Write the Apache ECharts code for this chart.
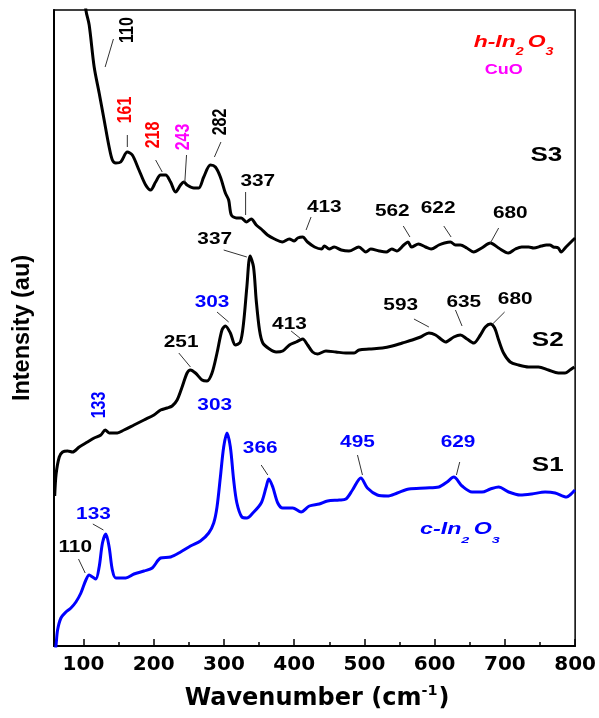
<!DOCTYPE html>
<html><head><meta charset="utf-8">
<script src="https://cdn.jsdelivr.net/npm/echarts@6/dist/echarts.min.js"></script>
<style>html,body{margin:0;padding:0;background:#fff}#c{width:599px;height:718px}</style>
</head><body><div id="c"></div>
<script>
// ---------- data ----------
const xTicks = [100, 200, 300, 400, 500, 600, 700, 800];
const xMinorTicks = [150, 250, 350, 450, 550, 650, 750];

const s3Wavenumber = [
  100, 103.4, 108.1, 115.2, 122.3, 129.4, 136.5, 141.1, 146.0, 153.0,
  162.4, 169.5, 179.0, 188.5, 195.6, 202.7, 209.8, 216.9, 224.0, 231.1,
  238.2, 242.8, 247.5, 257.0, 264.1, 271.2, 280.7, 287.8, 294.9, 302.0,
  306.7, 310.5, 317.6, 324.7, 331.8, 338.9, 346.0, 353.0, 362, 372,
  383, 393, 400, 405, 412, 419, 429, 439, 443, 450,
  457, 467, 478, 492, 502, 509, 521, 531, 539, 546,
  556, 562, 567, 577, 587, 595, 606, 614, 622.5, 629.6,
  636.7, 645.7, 655.6, 667, 679.3, 691, 705, 715, 724, 734,
  741, 752, 759, 764, 769, 776, 780, 787, 797, 800];
const s3Intensity = [
  670, 636, 621, 579, 553, 526, 499, 486, 483, 484,
  494, 491, 476, 461, 456, 464, 471, 471, 464, 454,
  461, 464, 461, 458, 458, 469, 481, 479, 469, 453,
  446, 431, 428, 428, 424, 427, 421, 417, 411, 407,
  404, 407, 405, 408, 409, 404, 399, 397, 400, 397,
  399, 396, 395, 399, 394, 397, 395, 394, 397, 395,
  401, 404, 399, 402, 399, 397, 401, 403, 404, 401,
  401, 398, 394, 398, 403, 398, 393, 397, 399, 399,
  398, 400, 401, 401, 399, 398, 394, 399, 406, 408];

const s2Wavenumber = [
  59, 61, 65.5, 70.2, 77.3, 84.4, 93.9, 105.7, 115.2, 124.7,
  131, 136.5, 148.2, 157.7, 171.9, 186.1, 200.3, 209.8, 219.1, 226.2,
  233.3, 240.4, 247.5, 252.3, 259.4, 268.8, 275.9, 283.0, 290.1, 297.2,
  302.0, 309.1, 316.2, 323.3, 327.9, 332.6, 337.2, 342.1, 345.9, 350.6,
  355.3, 364.8, 374.3, 383.7, 393.2, 402.7, 412.1, 419.1, 426.2, 433.3,
  445.2, 459.4, 473.6, 485.4, 492.5, 506.7, 525.5, 539.7, 553.9, 568.1,
  580.0, 591.8, 601.3, 610.6, 615.5, 627.2, 636.7, 646.1, 655.6, 665.1,
  672.2, 679.3, 685.4, 691.1, 698.1, 707.6, 719.4, 733.6, 747.8, 762.0,
  776.1, 785.6, 792.7, 798.9];
const s2Intensity = [
  150, 172, 189, 194, 195, 194, 199, 204, 208, 211,
  216, 213, 213, 216, 221, 226, 231, 236, 238, 240,
  246, 259, 273, 276, 273, 266, 265, 273, 293, 316,
  320, 313, 301, 304, 323, 359, 390, 379, 346, 316,
  303, 297, 294, 295, 301, 304, 307, 301, 294, 292,
  295, 294, 293, 293, 296, 297, 298, 300, 303, 306,
  309, 313, 311, 306, 304, 309, 311, 307, 303, 311,
  319, 322, 318, 306, 293, 284, 281, 279, 279, 276,
  273, 273, 276, 279];

const s1Wavenumber = [
  59.5, 60.9, 63.1, 67.9, 75.0, 82.1, 89.2, 96.3, 103.4, 108.1, 112.8,
  117.6, 122.3, 127.0, 131.8, 136.5, 141.1, 146.0, 160.1, 171.9, 186.1,
  197.9, 209.8, 224.0, 238.2, 252.3, 266.5, 278.3, 285.4, 290.1, 294.9,
  299.6, 304.3, 309.1, 313.8, 318.4, 325.5, 332.6, 341.1, 353.0, 360.1,
  363.8, 369.5, 376.6, 383.7, 397.9, 409.8, 421.6, 435.7, 447.5, 464.1,
  473.6, 483.0, 494.9, 504.2, 518.4, 532.6, 546.8, 563.4, 587.1, 606.0,
  617.7, 627.2, 639.0, 653.2, 667.4, 679.3, 691.1, 705.3, 721.8, 738.3,
  757.3, 771.5, 787.9, 792.7, 799.8];
const s1Intensity = [
  -6, 1, 16, 28, 34, 38, 44, 53, 66, 71, 69,
  67, 79, 103, 112, 99, 76, 68, 68, 72, 75,
  78, 88, 89, 94, 100, 105, 113, 123, 139, 169,
  199, 213, 199, 166, 143, 129, 128, 133, 143, 159,
  167, 159, 143, 138, 138, 134, 140, 142, 145, 146,
  147, 156, 168, 158, 151, 150, 153, 157, 158, 159,
  164, 169, 160, 154, 154, 157, 159, 154, 151, 152,
  154, 153, 149, 151, 156];

// peak labels: text, colour key, anchor (wavenumber, intensity), vertical?, leader line
const peakLabels = [
  ['110', 'k', 162.0, 616, 1, [142.6, 607, 130.8, 579]],
  ['161', 'r', 160.1, 536, 1, [162.4, 511, 162.4, 499]],
  ['218', 'r', 200.3, 511, 1, [202.7, 486, 212.1, 474]],
  ['243', 'm', 241.8, 509, 1, [246.7, 491, 244.3, 464]],
  ['282', 'k', 294.9, 524, 1, [295.7, 504, 286.4, 489]],
  ['337', 'k', 348.2, 464, 0, [330.8, 454, 330.8, 431]],
  ['413', 'k', 442.8, 438, 0, [424, 429, 416.9, 416]],
  ['562', 'k', 539.7, 434, 0, [555.3, 420, 564.8, 409]],
  ['622', 'k', 604.9, 437, 0, [613, 420, 623.4, 409]],
  ['680', 'k', 707.6, 432, 0, [691.1, 418, 679.3, 403]],
  ['337', 'k', 286.8, 406, 0, [299.6, 396, 332.6, 389]],
  ['303', 'b', 283.0, 343, 0, [290.1, 334, 306.7, 324]],
  ['251', 'k', 239.0, 303, 0, [235.7, 293, 252.3, 279]],
  ['133', 'b', 122.3, 241, 1, null],
  ['413', 'k', 393.2, 321, 0, [395.6, 315, 409.8, 307]],
  ['593', 'k', 551.6, 340, 0, [570.5, 327, 591.8, 319]],
  ['635', 'k', 641.4, 343, 0, [629.6, 336, 639.0, 320]],
  ['680', 'k', 714.7, 346, 0, [699.6, 334, 682.5, 322]],
  ['303', 'b', 286.8, 240, 0, null],
  ['366', 'b', 351.6, 197, 0, [353.0, 181, 362.4, 171]],
  ['495', 'b', 490.1, 203, 0, [490.1, 191, 497.2, 171]],
  ['629', 'b', 633.3, 203, 0, [635.7, 184, 631.0, 171]],
  ['133', 'b', 114.2, 131, 0, [113.3, 122, 128.4, 116]],
  ['110', 'k', 88.2, 98, 0, [92.9, 87, 102.4, 73]]
];
const sampleLabels = [['S3', 759.1, 491], ['S2', 761.0, 306], ['S1', 761.0, 181]];

// ---------- chart ----------
const COLORS = { k: '#000000', r: '#ff0000', m: '#ff00ff', b: '#0000ff' };
const chart = echarts.init(document.getElementById('c'));
const pairs = (a, b) => a.map((v, i) => [v, b[i]]);
const lineSeries = (xs, ys, color) => ({
  type: 'line', data: pairs(xs, ys), showSymbol: false, smooth: 0.3, clip: true,
  lineStyle: { color: color, width: 3 }, itemStyle: { color: color }
});

chart.setOption({
  animation: false,
  grid: { left: 54, right: 22, top: 10, bottom: 72, show: true, borderColor: '#000', borderWidth: 1.5 },
  xAxis: [{
    type: 'value', min: 58, max: 800,
    axisLine: { lineStyle: { color: '#000', width: 2 } },
    axisTick: { inside: true, length: 7, lineStyle: { color: '#000', width: 1.5 }, customValues: xTicks },
    axisLabel: { customValues: xTicks, color: '#000', fontFamily: 'DejaVu Sans', fontWeight: 'bold', fontSize: 20, margin: 9 },
    splitLine: { show: false }
  }, {
    type: 'value', min: 58, max: 800, position: 'bottom',
    axisLine: { show: false },
    axisTick: { inside: true, length: 4, lineStyle: { color: '#000', width: 1.5 }, customValues: xMinorTicks },
    axisLabel: { show: false }, splitLine: { show: false }
  }],
  yAxis: {
    type: 'value', min: 0, max: 636,
    axisLine: { show: true, lineStyle: { color: '#000', width: 2 } },
    axisTick: { show: false }, axisLabel: { show: false }, splitLine: { show: false }
  },
  series: [
    lineSeries(s3Wavenumber, s3Intensity, '#000000'),
    lineSeries(s2Wavenumber, s2Intensity, '#000000'),
    lineSeries(s1Wavenumber, s1Intensity, '#0000ff')
  ]
});

const toPx = (x, y) => chart.convertToPixel({ xAxisIndex: 0, yAxisIndex: 0 }, [x, y]);
const ctx = document.createElement('canvas').getContext('2d');
function measure(t, size, italic, family) {
  ctx.font = (italic ? 'italic ' : '') + 'bold ' + size + 'px "' + family + '"';
  return ctx.measureText(t).width;
}
// parts: [text, dy, sizeFactor]
function richGroup(parts, cx, cy, color, size, italic, family, sx, gapAfterSmall) {
  const widths = parts.map(p => measure(p[0], size * p[2], italic, family) + (p[2] < 1 ? gapAfterSmall : 0));
  const total = widths.reduce((a, b) => a + b, 0);
  let x = -total / 2;
  const children = parts.map((p, i) => {
    const el = {
      type: 'text', x: x, y: p[1],
      style: { text: p[0], fill: color, fontSize: size * p[2], fontWeight: 'bold',
        fontStyle: italic ? 'italic' : 'normal', fontFamily: family, align: 'left', verticalAlign: 'middle' }
    };
    x += widths[i];
    return el;
  });
  return { type: 'group', x: cx, y: cy, scaleX: sx, children: children, z: 100 };
}

const g = [];
peakLabels.forEach(a => {
  const p = toPx(a[2], a[3]);
  g.push({
    type: 'text', x: p[0], y: p[1], rotation: a[4] ? Math.PI / 2 : 0,
    scaleX: a[4] ? 0.8 : 1.3, z: 100,
    style: { text: a[0], fill: COLORS[a[1]], fontSize: a[4] ? 20 : 16, fontWeight: 'bold', fontFamily: 'Liberation Sans', align: 'center', verticalAlign: 'middle' }
  });
  if (a[5]) {
    const p1 = toPx(a[5][0], a[5][1]), p2 = toPx(a[5][2], a[5][3]);
    g.push({ type: 'line', shape: { x1: p1[0], y1: p1[1], x2: p2[0], y2: p2[1] }, style: { stroke: '#333', lineWidth: 1 }, z: 100 });
  }
});
sampleLabels.forEach(s => {
  const p = toPx(s[1], s[2]);
  g.push({ type: 'text', x: p[0], y: p[1], scaleX: 1.3, z: 100,
    style: { text: s[0], fill: '#000', fontSize: 20, fontWeight: 'bold', fontFamily: 'Liberation Sans', align: 'center', verticalAlign: 'middle' } });
});
// phase names
let p = toPx(715.2, 604);
g.push(richGroup([['h-In', 0, 1], ['2', 10, 0.62], ['O', 0, 1], ['3', 10, 0.62]], p[0], p[1], '#ff0000', 17, true, 'Liberation Sans', 1.35, 3));
p = toPx(698.2, 576);
g.push({ type: 'text', x: p[0], y: p[1], scaleX: 1.2, z: 100,
  style: { text: 'CuO', fill: '#ff00ff', fontSize: 15, fontWeight: 'bold', fontFamily: 'Liberation Sans', align: 'center', verticalAlign: 'middle' } });
p = toPx(639.0, 116);
g.push(richGroup([['c-In', 0, 1], ['2', 10, 0.62], ['O', 0, 1], ['3', 10, 0.62]], p[0], p[1], '#0000ff', 16, true, 'Liberation Sans', 1.45, 3));
// axis titles
g.push(richGroup([['Wavenumber (cm', 0, 1], ['-1', -8, 0.6], [')', 0, 1]], 317, 699, '#000', 24, false, 'DejaVu Sans', 1, 1));
g.push({ type: 'text', x: 22.5, y: 328, rotation: Math.PI / 2, z: 100,
  style: { text: 'Intensity (au)', fill: '#000', fontSize: 23.5, fontWeight: 'bold', fontFamily: 'Liberation Sans', align: 'center', verticalAlign: 'middle' } });

chart.setOption({ graphic: { elements: g } });
</script>
</body></html>
